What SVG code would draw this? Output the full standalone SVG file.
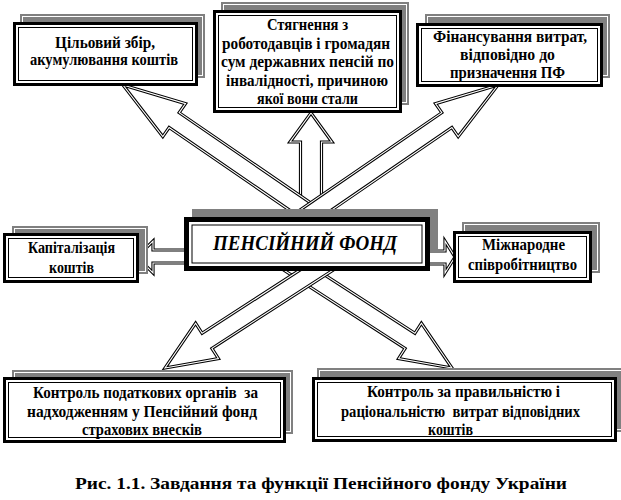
<svg xmlns="http://www.w3.org/2000/svg" xmlns:xlink="http://www.w3.org/1999/xlink" width="621" height="500" viewBox="0 0 621 500" font-family="Liberation Serif, Times New Roman, DejaVu Serif, serif">
<style>
text{font-family:'Liberation Serif','Times New Roman','DejaVu Serif',serif;font-weight:bold;fill:#000;text-anchor:middle}
.t{font-size:16px}
.title{font-style:italic;font-size:21px}
.cap{font-size:17px}
.sh{fill:#808080}
.shl{fill:none;stroke:#fff;stroke-width:1}
.bo{fill:#fff;stroke:#000;stroke-width:3}
.bi{fill:none;stroke:#000;stroke-width:1}
.co{fill:#fff;stroke:#000;stroke-width:5}
.ao{fill:#fff;stroke:#000;stroke-width:3.2;stroke-linejoin:miter}
.ai{fill:none;stroke:#fff;stroke-width:1.1;stroke-linejoin:miter}
</style>
<defs>
<path id="p2" d="M311,113 L332,142 L321.5,142 L321.5,240 L300.5,240 L300.5,142 L290,142 Z"/>
<path id="p1" d="M123,85 L185.5,103.6 L179.2,112.7 L346.7,227.6 L336.5,242.4 L169.1,127.5 L162.8,136.6 Z"/>
<path id="p3" d="M498,85 L435.5,103.6 L441.8,112.7 L274.3,227.6 L284.5,242.4 L451.9,127.5 L458.2,136.6 Z"/>
<path id="p5" d="M452,368 L398.6,358.5 L405.1,348.4 L279.1,267 L288.9,251.8 L414.9,333.3 L421.4,323.2 Z"/>
<path id="p4" d="M165,368 L218.4,358.5 L211.9,348.4 L337.9,267 L328.1,251.8 L202.1,333.3 L195.6,323.2 Z"/>
<path id="p6" d="M137,257 L153,241 L153,250 L195,250 L195,263 L153,263 L153,273 Z"/>
<path id="p7" d="M455,257 L445,241 L445,251 L420,251 L420,264 L445,264 L445,273 Z"/>
</defs>
<rect x="0" y="0" width="621" height="500" fill="#fff"/>
<g id="connectors">
<use xlink:href="#p2" class="ao"/><use xlink:href="#p2" class="ai"/>
<use xlink:href="#p1" class="ao"/><use xlink:href="#p1" class="ai"/>
<use xlink:href="#p3" class="ao"/><use xlink:href="#p3" class="ai"/>
<use xlink:href="#p5" class="ao"/><use xlink:href="#p5" class="ai"/>
<use xlink:href="#p4" class="ao"/><use xlink:href="#p4" class="ai"/>
<use xlink:href="#p6" class="ao"/><use xlink:href="#p6" class="ai"/>
<use xlink:href="#p7" class="ao"/><use xlink:href="#p7" class="ai"/>
</g>
<g id="node-center">
<rect class="sh" x="192" y="209" width="246" height="8"/>
<rect class="sh" x="430" y="209" width="8" height="40"/>
<rect class="co" x="186.5" y="219.5" width="241" height="49"/>
<rect class="bi" x="192" y="225" width="230" height="38"/>
<text class="title" x="305" y="250" textLength="184" lengthAdjust="spacingAndGlyphs">ПЕНСІЙНИЙ ФОНД</text>
</g>
<g id="node-goal">
<rect class="sh" x="20" y="14" width="185" height="64"/>
<rect class="shl" x="22.5" y="16.5" width="180" height="59"/>
<rect class="bo" x="14.5" y="23.5" width="182" height="61"/>
<rect class="bi" x="18.5" y="27.5" width="174" height="53"/>
<text class="t" x="105" y="48" textLength="100" lengthAdjust="spacingAndGlyphs">Цільовий збір,</text>
<text class="t" x="104" y="65" textLength="148" lengthAdjust="spacingAndGlyphs">акумулювання коштів</text>
</g>
<g id="node-recovery">
<rect class="sh" x="221" y="2" width="188" height="103"/>
<rect class="shl" x="223.5" y="4.5" width="183" height="98"/>
<rect class="bo" x="214.5" y="11.5" width="186" height="100"/>
<rect class="bi" x="218.5" y="15.5" width="178" height="92"/>
<text class="t" x="307.5" y="30" textLength="81" lengthAdjust="spacingAndGlyphs">Стягнення з</text>
<text class="t" x="306" y="48.5" textLength="168" lengthAdjust="spacingAndGlyphs">роботодавців і громадян</text>
<text class="t" x="307.5" y="67" textLength="173" lengthAdjust="spacingAndGlyphs">сум державних пенсій по</text>
<text class="t" x="307" y="85.5" textLength="162" lengthAdjust="spacingAndGlyphs">інвалідності, причиною</text>
<text class="t" x="307.5" y="104" textLength="101" lengthAdjust="spacingAndGlyphs">якої вони стали</text>
</g>
<g id="node-finance">
<rect class="sh" x="425" y="14" width="185" height="64"/>
<rect class="shl" x="427.5" y="16.5" width="180" height="59"/>
<rect class="bo" x="417.5" y="24.5" width="184" height="61"/>
<rect class="bi" x="421.5" y="28.5" width="176" height="53"/>
<text class="t" x="510" y="42" textLength="154" lengthAdjust="spacingAndGlyphs">Фінансування витрат,</text>
<text class="t" x="507.5" y="60" textLength="95" lengthAdjust="spacingAndGlyphs">відповідно до</text>
<text class="t" x="507.5" y="78" textLength="115" lengthAdjust="spacingAndGlyphs">призначення ПФ</text>
</g>
<g id="node-capital">
<rect class="sh" x="12" y="226" width="136" height="48"/>
<rect class="shl" x="14.5" y="228.5" width="131" height="43"/>
<rect class="bo" x="4.5" y="234.5" width="133" height="47"/>
<rect class="bi" x="8.5" y="238.5" width="125" height="39"/>
<text class="t" x="71.5" y="253" textLength="87" lengthAdjust="spacingAndGlyphs">Капіталізація</text>
<text class="t" x="71.5" y="273" textLength="45" lengthAdjust="spacingAndGlyphs">коштів</text>
</g>
<g id="node-intl">
<rect class="sh" x="462" y="222" width="138" height="51"/>
<rect class="shl" x="464.5" y="224.5" width="133" height="46"/>
<rect class="bo" x="454.5" y="232.5" width="136" height="49"/>
<rect class="bi" x="458.5" y="236.5" width="128" height="41"/>
<text class="t" x="523.5" y="250" textLength="83" lengthAdjust="spacingAndGlyphs">Міжнародне</text>
<text class="t" x="522.5" y="270" textLength="109" lengthAdjust="spacingAndGlyphs">співробітництво</text>
</g>
<g id="node-tax">
<rect class="sh" x="12" y="370" width="281" height="64"/>
<rect class="shl" x="14.5" y="372.5" width="276" height="59"/>
<rect class="bo" x="4.5" y="378.5" width="280" height="63"/>
<rect class="bi" x="8.5" y="382.5" width="272" height="55"/>
<text class="t" x="145.5" y="398" xml:space="preserve" textLength="225" lengthAdjust="spacingAndGlyphs">Контроль податкових органів  за</text>
<text class="t" x="142" y="417" textLength="230" lengthAdjust="spacingAndGlyphs">надходженням у Пенсійний фонд</text>
<text class="t" x="142" y="435" textLength="120" lengthAdjust="spacingAndGlyphs">страхових внесків</text>
</g>
<g id="node-control">
<rect class="sh" x="317" y="368" width="304" height="64"/>
<rect class="shl" x="319.5" y="370.5" width="310" height="59"/>
<rect class="bo" x="313.5" y="378.5" width="302" height="62"/>
<rect class="bi" x="317.5" y="382.5" width="294" height="54"/>
<text class="t" x="463.5" y="397" textLength="193" lengthAdjust="spacingAndGlyphs">Контроль за правильністю і</text>
<text class="t" x="460.5" y="417" xml:space="preserve" textLength="239" lengthAdjust="spacingAndGlyphs">раціональністю  витрат відповідних</text>
<text class="t" x="450.5" y="435" textLength="45" lengthAdjust="spacingAndGlyphs">коштів</text>
</g>
<text class="cap" x="321" y="489" textLength="492" lengthAdjust="spacingAndGlyphs">Рис. 1.1. Завдання та функції Пенсійного фонду України</text>
</svg>
